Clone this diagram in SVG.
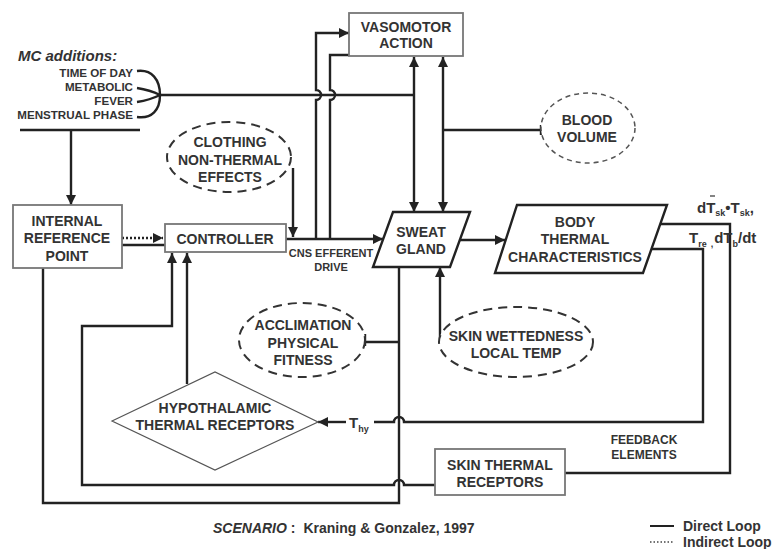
<svg xmlns="http://www.w3.org/2000/svg" width="774" height="549" viewBox="0 0 774 549">
<style>
text{font-family:"Liberation Sans",Arial,sans-serif;font-weight:bold;fill:#333;}
.c{text-anchor:middle;font-size:14px;}
.box{fill:#fff;stroke:#777;stroke-width:1.8;}
.para{fill:#fff;stroke:#222;stroke-width:2.4;}
.ell{fill:#fff;stroke:#333;stroke-width:2;stroke-dasharray:9 6;}
.blood{fill:#fff;stroke:#555;stroke-width:1.5;stroke-dasharray:5 4;}
.dia{fill:#fff;stroke:#555;stroke-width:1.2;}
.ln{fill:none;stroke:#222;stroke-width:2.4;}
.arr{marker-end:url(#ah);}
.sub{font-size:9px;}
.mc{font-size:11.6px;text-anchor:end;}
</style>
<defs>
<marker id="ah" viewBox="0 0 10 10" refX="10" refY="5" markerWidth="12" markerHeight="10" orient="auto-start-reverse" markerUnits="userSpaceOnUse">
<path d="M0,0 L10,5 L0,10 z" fill="#222"/>
</marker>
</defs>

<g id="connectors">
<path class="ln" d="M137,71 C152,69 160,80 160,95 C160,110 152,119 137,117"/>
<path class="ln" d="M137,88 Q150,90 160,95"/>
<path class="ln" d="M137,102 Q150,100 160,95"/>
<path class="ln" d="M160,95 H414"/>
<path class="ln" d="M20,130 H140" stroke-width="1.5"/>
<path class="ln arr" d="M71,130 V205"/>
<path class="ln arr" d="M122,238 H163" stroke-dasharray="2 2"/>
<path class="ln" d="M122,245 H165"/>
<path class="ln arr" d="M286,239 H383"/>
<path class="ln arr" d="M293,168 V237"/>
<path class="ln arr" d="M316,239 V100 A5,5 0 0 0 316,90 V33 H349"/>
<path class="ln" d="M330,239 V100 A5,5 0 0 0 330,90 V55 H349"/>
<path class="ln" d="M414,212 V57" marker-start="url(#ah)" marker-end="url(#ah)"/>
<path class="ln" d="M443,212 V57" marker-start="url(#ah)" marker-end="url(#ah)"/>
<path class="ln" d="M443,130 H541 M541,125 V135"/>
<path class="ln arr" d="M460,240 H505"/>
<path class="ln" d="M660,224 H730 V473 H565"/>
<path class="ln" d="M652,249 H703 V422 H404 A5,5 0 0 0 394,422 H374"/>
<path class="ln arr" d="M346,422 H318"/>
<path class="ln" d="M399,267 V503 H43 V268"/>
<path class="ln" d="M365,342 H399 M365,334 V346"/>
<path class="ln arr" d="M440,343 V267"/>
<path class="ln arr" d="M435,485 H404 A5,5 0 0 0 394,485 H82 V326 H172 V253"/>
<path class="ln arr" d="M187,384 V253"/>
</g>

<g id="mc-additions">
<text x="18" y="61" font-size="15" font-style="italic">MC additions:</text>
<text class="mc" x="133" y="77">TIME OF DAY</text>
<text class="mc" x="133" y="91">METABOLIC</text>
<text class="mc" x="133" y="105">FEVER</text>
<text class="mc" x="133" y="119">MENSTRUAL PHASE</text>
</g>

<g id="vasomotor">
<rect class="box" x="349" y="13" width="114" height="43"/>
<text class="c" x="406" y="32">VASOMOTOR</text>
<text class="c" x="406" y="48">ACTION</text>
</g>

<g id="blood-volume">
<ellipse class="blood" cx="588" cy="128" rx="47" ry="35"/>
<text class="c" x="587" y="125">BLOOD</text>
<text class="c" x="587" y="142">VOLUME</text>
</g>

<g id="clothing">
<ellipse class="ell" cx="229" cy="157" rx="62" ry="35"/>
<text class="c" x="230" y="147">CLOTHING</text>
<text class="c" x="230" y="165">NON-THERMAL</text>
<text class="c" x="230" y="182">EFFECTS</text>
</g>

<g id="internal-reference">
<rect class="box" x="13" y="205" width="109" height="63"/>
<text class="c" x="67" y="226">INTERNAL</text>
<text class="c" x="67" y="243">REFERENCE</text>
<text class="c" x="67" y="261">POINT</text>
</g>

<g id="controller">
<rect class="box" x="165" y="224" width="121" height="28"/>
<text class="c" x="225" y="244">CONTROLLER</text>
</g>

<g id="cns-label">
<text x="331" y="257" font-size="11" text-anchor="middle">CNS EFFERENT</text>
<text x="331" y="271" font-size="11" text-anchor="middle">DRIVE</text>
</g>

<g id="sweat-gland">
<polygon class="para" points="393,212 470,212 450,267 373,267"/>
<text class="c" x="421" y="237">SWEAT</text>
<text class="c" x="421" y="254">GLAND</text>
</g>

<g id="body-thermal">
<polygon class="para" points="517,205 667,205 643,273 495,273"/>
<text class="c" x="575" y="227">BODY</text>
<text class="c" x="575" y="244">THERMAL</text>
<text class="c" x="575" y="262">CHARACTERISTICS</text>
</g>

<g id="outputs">
<text x="697" y="213" font-size="15">dT<tspan class="sub" dy="3">sk</tspan><tspan dy="-3">•T</tspan><tspan class="sub" dy="3">sk</tspan><tspan dy="-3">,</tspan></text>
<line x1="710" y1="196" x2="715" y2="196" stroke="#333" stroke-width="1.2"/>
<text x="689" y="243" font-size="15">T<tspan class="sub" dy="4">re</tspan><tspan font-size="9" dx="4">,</tspan><tspan dy="-4" dx="1">dT</tspan><tspan class="sub" dy="4">b</tspan><tspan dy="-4">/dt</tspan></text>
</g>

<g id="acclimation">
<ellipse class="ell" cx="302" cy="340" rx="63" ry="37"/>
<text class="c" x="303" y="330">ACCLIMATION</text>
<text class="c" x="303" y="348">PHYSICAL</text>
<text class="c" x="303" y="365">FITNESS</text>
</g>

<g id="skin-wettedness">
<ellipse class="ell" cx="516" cy="342" rx="77" ry="35"/>
<text class="c" x="516" y="341">SKIN WETTEDNESS</text>
<text class="c" x="516" y="358">LOCAL TEMP</text>
</g>

<g id="hypothalamic">
<polygon class="dia" points="112,421 215,372 318,422 215,470"/>
<text class="c" x="215" y="413">HYPOTHALAMIC</text>
<text class="c" x="215" y="430">THERMAL RECEPTORS</text>
</g>

<g id="thy-label">
<text x="349" y="428" font-size="15">T<tspan class="sub" dy="4">hy</tspan></text>
</g>

<g id="skin-thermal">
<rect class="box" x="435" y="449" width="130" height="46"/>
<text class="c" x="500" y="470">SKIN THERMAL</text>
<text class="c" x="500" y="487">RECEPTORS</text>
</g>

<g id="feedback-label">
<text x="644" y="444" font-size="12" text-anchor="middle">FEEDBACK</text>
<text x="644" y="459" font-size="12" text-anchor="middle">ELEMENTS</text>
</g>

<g id="scenario">
<text x="213" y="533" font-size="14"><tspan font-style="italic">SCENARIO</tspan> :<tspan dx="8">Kraning &amp; Gonzalez, 1997</tspan></text>
</g>

<g id="legend">
<line x1="650" y1="526" x2="674" y2="526" stroke="#222" stroke-width="2"/>
<text x="683" y="531" font-size="14">Direct Loop</text>
<line x1="650" y1="542" x2="674" y2="542" stroke="#444" stroke-width="1.5" stroke-dasharray="1.5 2"/>
<text x="683" y="547" font-size="14">Indirect Loop</text>
</g>
</svg>
